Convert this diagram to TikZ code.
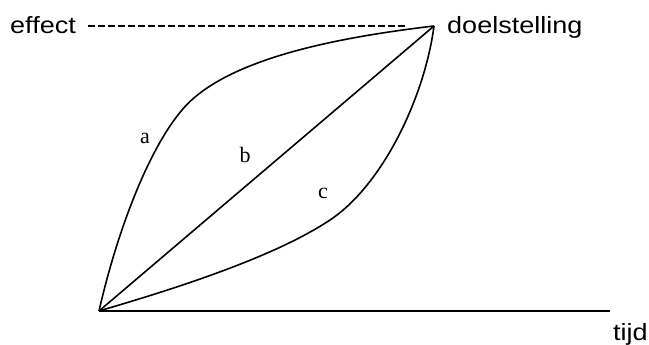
\documentclass[tikz,border=0pt]{standalone}
\usepackage{fontspec}
\setmainfont{Liberation Serif}
\newfontfamily\axisfont[FakeStretch=1.15]{Liberation Sans}
\begin{document}
\begin{tikzpicture}[x=1pt,y=-1pt,
  axislabel/.style={inner sep=0pt,font=\axisfont\fontsize{23.5}{28}\selectfont},
  curvelabel/.style={inner sep=0pt,anchor=base,font=\fontsize{22}{26}\selectfont},
  curve/.style={line width=1.6pt,line join=round},
  axisline/.style={line width=1.7pt}]
\useasboundingbox (0,0) rectangle (649,345);
% key points
\coordinate (O) at (99,311);
\coordinate (T) at (434,26);
\coordinate (X) at (610,311);
\coordinate (D0) at (88,26);
\coordinate (D1) at (408,26);
\coordinate (Ma) at (182,110);
\coordinate (Mc) at (330,220);
% texts
\node[axislabel,anchor=base west] (effect) at (10,34) {effect};
\node[axislabel,anchor=base west] (doel) at (447,34) {doelstelling};
\node[axislabel,anchor=base west] (tijd) at (613,340) {tijd};
\node[curvelabel] (la) at (145,144) {a};
\node[curvelabel] (lb) at (245,163) {b};
\node[curvelabel] (lc) at (323,198) {c};
% axis
\draw[axisline] (O) -- (X);
% dashed target level
\draw[line width=1.6pt,dash pattern=on 7pt off 3pt] (D0) -- (D1);
% curve b
\draw[curve] (O) -- (T);
% curve a
\draw[curve] (O) .. controls (117,232) and (148,150) .. (Ma)
                 .. controls (224,60) and (332,38) .. (T);
% curve c
\draw[curve] (O) .. controls (160,293) and (270,260) .. (Mc)
                 .. controls (384,184) and (425,95) .. (T);
\end{tikzpicture}
\end{document}
